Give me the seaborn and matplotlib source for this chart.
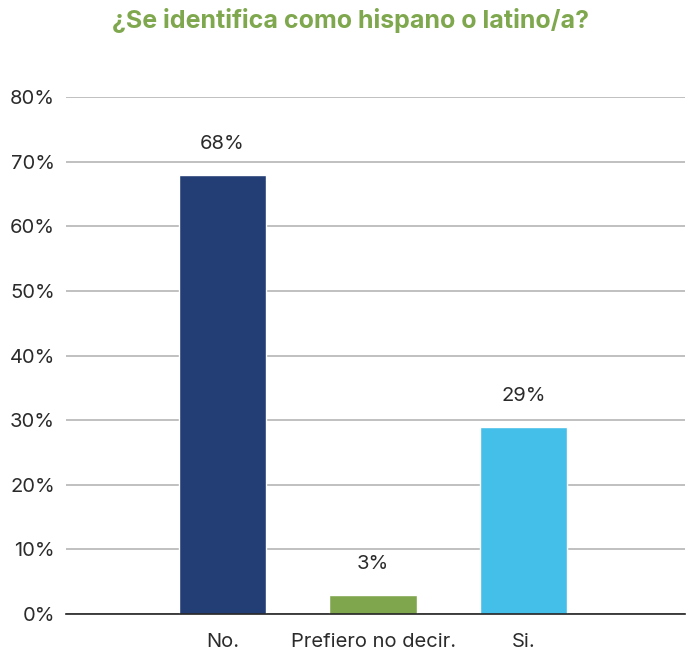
import matplotlib
matplotlib.use("Agg")
import matplotlib.pyplot as plt
import seaborn as sns
import pandas as pd

# ── Data ──────────────────────────────────────────────────────────────────────
categories = ["No.", "Prefiero no decir.", "Si."]
values = [68, 3, 29]
bar_colors = ["#233E74", "#80A64D", "#44BFEA"]
y_ticks = [0, 10, 20, 30, 40, 50, 60, 70, 80]

TITLE = "¿Se identifica como hispano o latino/a?"
TITLE_C = "#7FA84E"
TEXT_C = "#2B2B2B"
GRID_C = "#B5B5B5"

sns.set_style("white")
plt.rcParams["font.family"] = ["Inter", "DejaVu Sans"]

df = pd.DataFrame({"cat": categories, "val": values})

fig = plt.figure(figsize=(6.89, 6.56), dpi=100)
ax = fig.add_axes([0.0958, 0.064, 0.898, 0.788])

sns.barplot(data=df, x="cat", y="val", hue="cat", palette=bar_colors,
            order=categories, hue_order=categories, width=0.58,
            saturation=1, legend=False, ax=ax)

ax.set_ylim(0, 80)
ax.set_xlim(-1.04, 3.07)
ax.set_yticks(y_ticks)
ax.set_yticklabels([f"{t}%" for t in y_ticks])
ax.grid(axis="y", color=GRID_C, linewidth=1.2)
ax.set_axisbelow(True)
for s in ["top", "right", "left"]:
    ax.spines[s].set_visible(False)
ax.spines["bottom"].set_color("#222222")
ax.spines["bottom"].set_linewidth(1.2)
ax.spines["bottom"].set_zorder(5)

ax.tick_params(axis="y", length=0, pad=8, labelsize=14.5, labelcolor=TEXT_C)
ax.tick_params(axis="x", length=0, pad=14, labelsize=14.5, labelcolor=TEXT_C)
ax.set_xlabel("")
ax.set_ylabel("")

for i, v in enumerate(values):
    ax.annotate(f"{v}%", (i, v), xytext=(0, 22), textcoords="offset points",
                ha="center", va="center", fontsize=14.5, color=TEXT_C)

fig.text(0.508, 0.968, TITLE, ha="center", va="center", fontsize=18,
         fontweight="bold", color=TITLE_C)

fig.savefig("out.png", dpi=100, facecolor="white")
